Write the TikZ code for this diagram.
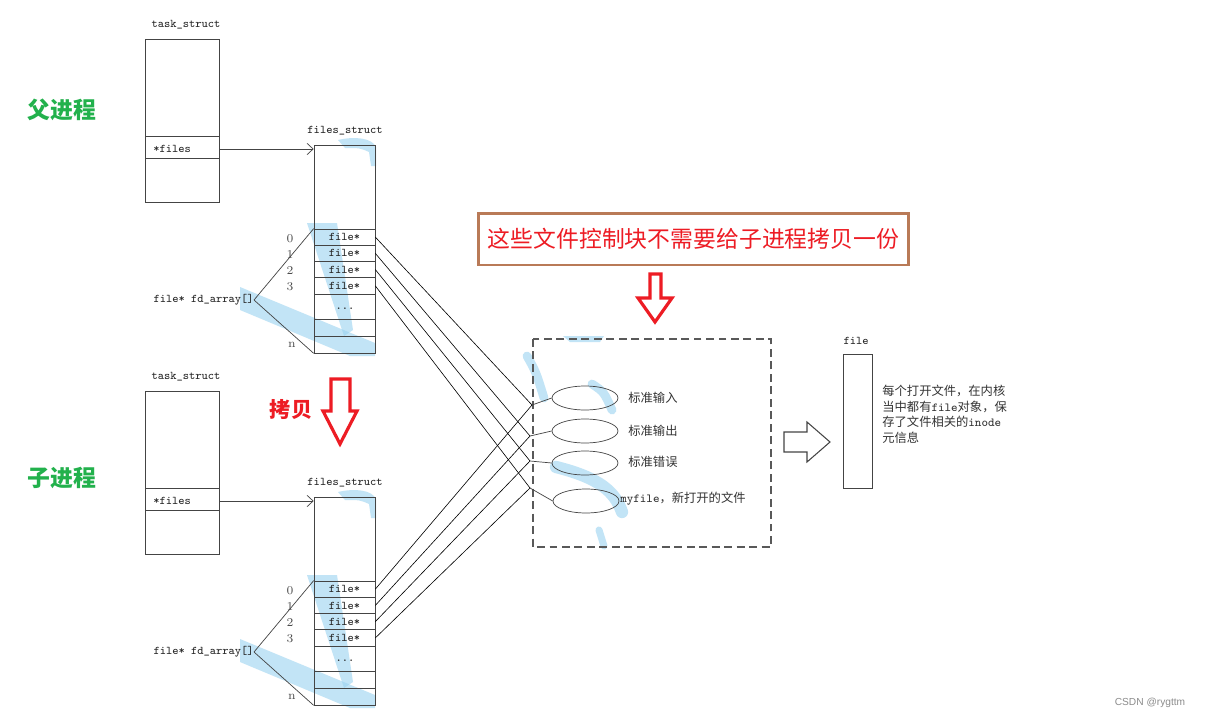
\documentclass[tikz,border=0pt]{standalone}
\usepackage{fontspec}
\newfontfamily\cjk{Noto Sans CJK SC}
\newfontfamily\wmfont{Liberation Sans}
\usetikzlibrary{shapes.geometric,arrows.meta}
\definecolor{redA}{HTML}{ED1C24}
\definecolor{greenA}{HTML}{22B14C}
\definecolor{brownA}{HTML}{B97A57}
\definecolor{blueA}{HTML}{9AD3F0}
\definecolor{lineA}{HTML}{444444}
\tikzset{
  mono/.style={font=\ttfamily\fontsize{6.7}{7.5}\selectfont, inner sep=0pt, text=black!85},
  idx/.style={font=\rmfamily\fontsize{6.8}{7.5}\selectfont, inner sep=0pt, text=black!70},
  cell/.style={draw=lineA, minimum width=1.22cm, minimum height=0.325cm, inner sep=0pt,
               font=\ttfamily\fontsize{6.7}{7.5}\selectfont, text=black!85},
  boxA/.style={draw=lineA, inner sep=0pt},
  conn/.style={draw=black, line width=0.35pt},
  lbl/.style={font=\cjk\fontsize{7}{8.8}\selectfont, inner sep=0pt, text=black!80},
  streak/.style={fill=blueA, draw=none, opacity=0.6},
  streakline/.style={draw=blueA, opacity=0.6, line cap=round},
  redarrow/.style={draw=redA, line width=1.8pt, line join=miter},
  greenlbl/.style={font=\cjk\bfseries\fontsize{13}{15}\selectfont, text=greenA, inner sep=0pt},
  ptr/.style={draw=lineA, -{Straight Barb[length=3.5pt,width=6.5pt]}}
}
\newcommand\procblock[2]{%
  % blue smears
  \fill[streak] (307,223+#2) -- (337,223+#2) -- (353,330+#2) -- (344,336+#2) -- cycle;
  \fill[streak] (240,287+#2) -- (375,343+#2) -- (375,356+#2) -- (350,356+#2) -- (240,310+#2) -- cycle;
  \fill[streak] (338,140+#2) .. controls (355,136+#2) and (372,138+#2) .. (376,147+#2)
        -- (376,166+#2) -- (371,166+#2) -- (369,152+#2) .. controls (360,148+#2) .. (345,148+#2) -- cycle;
  % task_struct
  \node[mono] (#1tl) at (186,25+#2) {task\_struct};
  \node[boxA, minimum width=1.48cm, minimum height=3.26cm] (#1task) at (182,120.5+#2) {};
  \draw[lineA] (145,136+#2) -- (219,136+#2);
  \draw[lineA] (145,158+#2) -- (219,158+#2);
  \node[mono, anchor=west] (#1files) at (153,149+#2) {*files};
  % files_struct
  \node[mono] (#1fl) at (345,131+#2) {files\_struct};
  \node[boxA, minimum width=1.22cm, minimum height=4.16cm] (#1fs) at (344.5,249+#2) {};
  \node[cell] (#10) at (344.5,237.1+#2) {file*};
  \node[cell] (#11) at (344.5,253.4+#2) {file*};
  \node[cell] (#12) at (344.5,269.6+#2) {file*};
  \node[cell] (#13) at (344.5,285.9+#2) {file*};
  \node[mono] (#1dots) at (345,309+#2) {...};
  \draw[lineA] (314,319+#2) -- (375,319+#2);
  \draw[lineA] (314,336+#2) -- (375,336+#2);
  \node[idx] (#1i0) at (290,239+#2) {0};
  \node[idx] (#1i1) at (290,255+#2) {1};
  \node[idx] (#1i2) at (290,271+#2) {2};
  \node[idx] (#1i3) at (290,287+#2) {3};
  \node[idx] (#1in) at (292,345+#2) {n};
  \node[mono, anchor=east] (#1fd) at (254,300+#2) {file* fd\_array[]};
  \draw[lineA] (#1fd.east) -- (#10.north west);
  \draw[lineA] (#1fd.east) -- (#1fs.south west);
  \draw[ptr] (#1task.east |- #1files.center) -- (#1fs.west |- #1files.center);
}
\begin{document}
\begin{tikzpicture}[x=0.02cm, y=-0.02cm]
\useasboundingbox (0,0) rectangle (1207,720);
\fill[white] (0,0) rectangle (1207,720);

% blue smears around the middle box
\fill[streak] (563,336) -- (604,336) -- (600,342) -- (570,342) -- cycle;
\draw[streakline, line width=5pt] (527,356) .. controls (536,372) .. (544,398);
\draw[streakline, line width=5pt] (592,384) .. controls (604,392) .. (612,410);
\draw[streakline, line width=7pt] (556,467) .. controls (600,478) and (615,492) .. (622,512);
\draw[streakline, line width=4pt] (599,530) -- (604,546);

\procblock{p}{0}
\procblock{c}{352}

% green labels
\node[greenlbl] (parent) at (62,110) {父进程};
\node[greenlbl] (child) at (62,478) {子进程};

% copy label + arrow
\node[font=\cjk\bfseries\fontsize{12}{14}\selectfont, text=redA, inner sep=0pt] (copy) at (291,410) {拷贝};
\draw[redarrow] (331,379) -- (350,379) -- (350,411) -- (357,411) -- (340,444) -- (323,411) -- (331,411) -- cycle;

% red note box
\node[draw=brownA, line width=1.7pt, minimum width=8.62cm, minimum height=1.04cm,
      font=\cjk\fontsize{13}{15}\selectfont, text=redA] (note) at (693.5,239) {这些文件控制块不需要给子进程拷贝一份};
\draw[redarrow] (650,274) -- (661,274) -- (661,298) -- (672,298) -- (655,322) -- (638,298) -- (650,298) -- cycle;

% dashed region
\draw[draw=black!65, line width=0.7pt, dash pattern=on 4.5pt off 2.6pt] (533,339) rectangle (771,547);

% ellipses
\tikzset{ell/.style={ellipse, draw=lineA, minimum width=1.32cm, minimum height=0.48cm, inner sep=0pt}}
\node[ell] (e1) at (585,398) {};
\node[ell] (e2) at (585,431) {};
\node[ell] (e3) at (585,463) {};
\node[ell] (e4) at (586,501) {};
\node[lbl, anchor=west] (t1) at (628,398) {标准输入};
\node[lbl, anchor=west] (t2) at (628,431) {标准输出};
\node[lbl, anchor=west] (t3) at (628,462) {标准错误};
\node[lbl, anchor=west] (t4) at (620,499) {{\ttfamily myfile}，新打开的文件};

\coordinate (j1) at (532,405);
\coordinate (j2) at (530,436);
\coordinate (j3) at (530,461);
\coordinate (j4) at (530,488);
\draw[lineA] (j1) -- (e1.west);
\draw[lineA] (j2) -- (e2.west);
\draw[lineA] (j3) -- (e3.west);
\draw[lineA] (j4) -- (e4.west);

% connectors from fd arrays
\draw[conn] (p0.east) -- (j1);
\draw[conn] (p1.east) -- (j2);
\draw[conn] (p2.east) -- (j3);
\draw[conn] (p3.east) -- (j4);
\draw[conn] (c0.east) -- (j1);
\draw[conn] (c1.east) -- (j2);
\draw[conn] (c2.east) -- (j3);
\draw[conn] (c3.east) -- (j4);

% hollow arrow
\draw[lineA, line width=0.6pt] (784,432) -- (807,432) -- (807,422) -- (830,442) -- (807,462) -- (807,452) -- (784,452) -- cycle;

% file object
\node[mono] (fl) at (856,341) {file};
\node[boxA, minimum width=0.58cm, minimum height=2.68cm] (filebox) at (857.5,421) {};
\node[lbl, anchor=north west, align=left] (desc) at (882,385)
  {每个打开文件，在内核\\当中都有{\ttfamily file}对象，保\\存了文件相关的{\ttfamily inode}\\元信息};

% watermark
\node[font=\wmfont\fontsize{5.8}{7}\selectfont, text=black!45, inner sep=0pt] (wm) at (1150,703) {CSDN @rygttm};
\end{tikzpicture}
\end{document}
